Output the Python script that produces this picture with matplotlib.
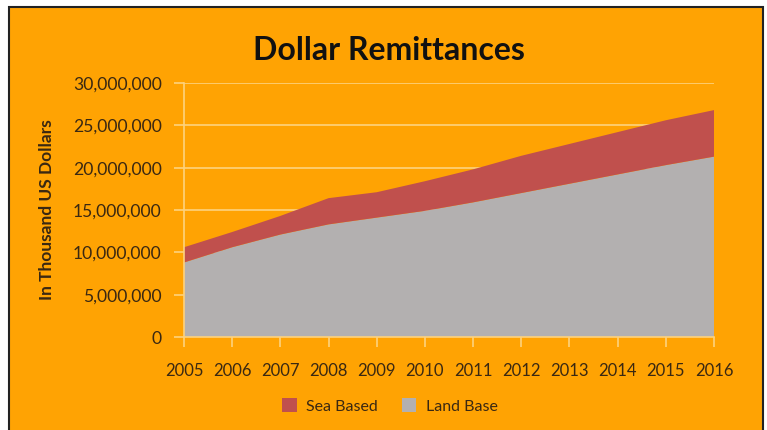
import matplotlib.pyplot as plt
from matplotlib.patches import Rectangle
from matplotlib.ticker import FuncFormatter

years = [2005, 2006, 2007, 2008, 2009, 2010, 2011, 2012, 2013, 2014, 2015, 2016]
# remittances in thousand US dollars
land_base = [8800000, 10600000, 12100000, 13300000, 14100000, 14900000,
             15900000, 17000000, 18100000, 19200000, 20300000, 21300000]
sea_based = [1800000, 1800000, 2200000, 3100000, 3000000, 3500000,
             3900000, 4400000, 4700000, 5000000, 5300000, 5500000]

orange = '#FFA303'
pale = '#FDD27E'
text_col = '#3A2812'
plt.rcParams['font.family'] = ['Lato', 'DejaVu Sans']

fig = plt.figure(figsize=(7.67, 4.30), dpi=100, facecolor='white')
# orange chart panel with a dark frame
fig.patches.append(Rectangle((9 / 767, -0.02), 754 / 767, 1.02 - 7 / 430,
                             transform=fig.transFigure, facecolor=orange,
                             edgecolor='#222222', linewidth=1.5, zorder=-1))

ax = fig.add_axes([184 / 767, 1 - 337 / 430, 530 / 767, 254 / 430])
ax.set_facecolor('none')
ax.set_zorder(1)

ax.stackplot(years, land_base, sea_based, colors=['#B3B0B0', '#C0504D'],
             labels=['Land Base', 'Sea Based'], zorder=3)

ax.set_xlim(2005, 2016)
ax.set_ylim(0, 30000000)
ax.set_yticks(range(0, 30000001, 5000000))
ax.set_xticks(years)
ax.yaxis.set_major_formatter(FuncFormatter(lambda v, p: f'{int(v):,}'))
ax.grid(axis='y', color=pale, linewidth=1.2, zorder=1)
ax.set_axisbelow(True)

for side in ['top', 'right']:
    ax.spines[side].set_visible(False)
for side in ['left', 'bottom']:
    ax.spines[side].set_color(pale)
    ax.spines[side].set_linewidth(1.2)
    ax.spines[side].set_zorder(4)

ax.tick_params(axis='both', colors=pale, labelcolor=text_col, labelsize=12,
               length=7, width=1.2)
ax.tick_params(axis='x', pad=12)
ax.tick_params(axis='y', labelsize=12.6, pad=9)

ax.set_ylabel('In Thousand US Dollars', fontsize=12.5, fontweight='bold',
              color=text_col, labelpad=13)
fig.text(389 / 767, 1 - 50 / 430, 'Dollar Remittances', fontsize=23,
         fontweight='bold', color='#111111', ha='center', va='center')

handles, labels = ax.get_legend_handles_labels()
leg = fig.legend(handles[::-1], labels[::-1], loc='center',
                 bbox_to_anchor=(390 / 767, 1 - 406 / 430), ncol=2,
                 frameon=False, fontsize=11.5, handlelength=0.9,
                 handleheight=0.9, columnspacing=1.5, handletextpad=0.6)
for t in leg.get_texts():
    t.set_color(text_col)

fig.savefig('out.png', dpi=100, facecolor='white')
